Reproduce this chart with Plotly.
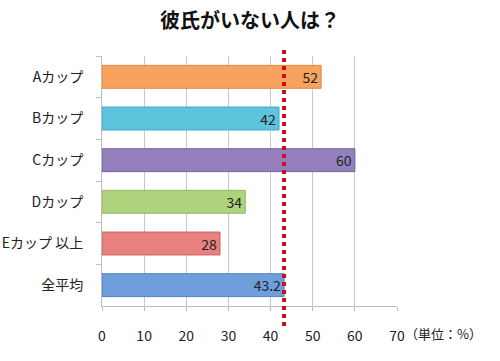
import plotly.graph_objects as go

categories = ["Aカップ", "Bカップ", "Cカップ", "Dカップ", "Eカップ 以上", "全平均"]
values = [52, 42, 60, 34, 28, 43.2]
labels = ["52", "42", "60", "34", "28", "43.2"]
colors = ["#F7A25E", "#5EC3DC", "#9480BC", "#AFD27C", "#E8807D", "#6F9FDA"]
line_colors = ["#E08A40", "#3FA8C4", "#7862A2", "#93B860", "#CC605D", "#5081C0"]
average = 43.2
tick_vals = [0, 10, 20, 30, 40, 50, 60, 70]

FONT = "Noto Sans CJK JP, Noto Sans, sans-serif"

fig = go.Figure()
fig.add_trace(go.Bar(
    x=values, y=categories, orientation="h",
    marker=dict(color=colors, line=dict(color=line_colors, width=1)),
    width=0.55,
    text=labels, textposition="inside", insidetextanchor="end", textangle=0,
    constraintext="none",
    textfont=dict(size=14, color="#222222", family=FONT),
    cliponaxis=False,
))

fig.add_shape(type="line", xref="x", yref="paper",
              x0=average, x1=average, y0=-0.08, y1=1.04,
              line=dict(color="#C8101E", width=4, dash="dot"))

fig.update_layout(
    width=500, height=361,
    margin=dict(l=102, r=103, t=56, b=55, autoexpand=False),
    paper_bgcolor="white", plot_bgcolor="white",
    showlegend=False,
    font=dict(family=FONT, size=14, color="#222222"),
    title=dict(text="<b>彼氏がいない人は？</b>", x=0.5, xanchor="center",
               y=0.942, yanchor="middle", automargin=False,
               font=dict(size=20, color="#111111", family=FONT)),
    xaxis=dict(range=[0, 70], tickvals=tick_vals, showgrid=True,
               gridcolor="#C8C8C8", gridwidth=1, zeroline=False,
               showline=True, linecolor="#BDBDBD", linewidth=1,
               ticks="outside", ticklen=4, tickcolor="#BDBDBD",
               ticklabelstandoff=13, automargin=False,
               tickfont=dict(size=14, color="#222222")),
    yaxis=dict(autorange="reversed", showgrid=False, zeroline=False,
               showline=True, linecolor="#BDBDBD", linewidth=1,
               ticks="outside", ticklen=5, tickcolor="#BDBDBD",
               tickson="boundaries", ticklabelstandoff=15, automargin=False,
               tickfont=dict(size=14, color="#222222")),
    bargap=0.45,
)

fig.add_annotation(text="（単位：%）", xref="paper", yref="paper",
                   x=1.02, y=-0.11, xanchor="left", yanchor="middle",
                   showarrow=False, font=dict(size=13, color="#222222"))

fig.write_html("out.html",
               config={"displayModeBar": False},
               post_script="document.body.style.margin='0';document.body.style.overflow='hidden';")
